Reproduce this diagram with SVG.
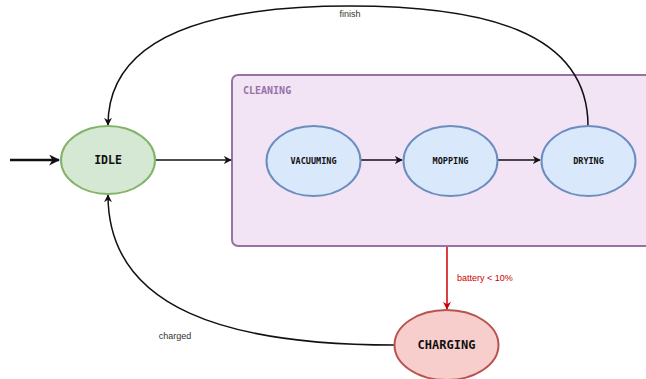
<svg xmlns="http://www.w3.org/2000/svg" width="646" height="379" viewBox="0 0 646 379">
<defs>
<style>
.mono{font-family:"DejaVu Sans Mono","Liberation Mono",monospace;font-weight:bold;text-anchor:middle;fill:#111}
.lbl{font-family:"Liberation Sans",Arial,sans-serif;font-size:9px;fill:#333}
.edge{fill:none;stroke:#111;stroke-width:1.5}
</style>
<marker id="ah" viewBox="0 0 10 10" refX="9" refY="5" markerWidth="8" markerHeight="8" markerUnits="userSpaceOnUse" orient="auto"><path d="M0,0 L10,5 L0,10 L3,5 Z" fill="#111"/></marker>
<marker id="ahr" viewBox="0 0 10 10" refX="9" refY="5" markerWidth="8" markerHeight="8" markerUnits="userSpaceOnUse" orient="auto"><path d="M0,0 L10,5 L0,10 L3,5 Z" fill="#cc0000"/></marker>
<marker id="ahb" viewBox="0 0 10 10" refX="9" refY="5" markerWidth="11" markerHeight="11" markerUnits="userSpaceOnUse" orient="auto"><path d="M0,0 L10,5 L0,10 L3,5 Z" fill="#111"/></marker>
</defs>
<rect width="646" height="379" fill="#ffffff"/>
<g id="cleaning">
<rect x="232" y="75" width="430" height="171" rx="6" fill="#f2e4f5" stroke="#9673a6" stroke-width="2"/>
<text x="243" y="94" class="mono" style="text-anchor:start;fill:#9673a6;font-size:10px">CLEANING</text>
</g>
<g id="connectors">
<line x1="10" y1="160" x2="59" y2="160" stroke="#111" stroke-width="2.5" marker-end="url(#ahb)"/>
<line x1="156" y1="160" x2="231" y2="160" class="edge" stroke="#333" marker-end="url(#ah)"/>
<line x1="361" y1="160" x2="402" y2="160" class="edge" marker-end="url(#ah)"/>
<line x1="498" y1="160" x2="540" y2="160" class="edge" marker-end="url(#ah)"/>
<path d="M588,126 C588,30 480,6 350,6 C200,6 108,40 108,125" class="edge" marker-end="url(#ah)"/>
<text x="350" y="17" class="lbl" text-anchor="middle">finish</text>
<line x1="447" y1="247" x2="447" y2="309" stroke="#cc0000" stroke-width="1.5" marker-end="url(#ahr)"/>
<text x="457" y="281" class="lbl" style="fill:#cc0000">battery &lt; 10%</text>
<path d="M394,345 C230,345 108,310 108,195" class="edge" marker-end="url(#ah)"/>
<text x="175" y="339" class="lbl" text-anchor="middle">charged</text>
</g>
<g id="idle">
<ellipse cx="108" cy="160" rx="47" ry="34" fill="#d5e8d4" stroke="#82b366" stroke-width="2"/>
<text x="108" y="164" class="mono" font-size="11.5">IDLE</text>
</g>
<g id="vacuuming">
<ellipse cx="313.5" cy="161" rx="47" ry="35" fill="#dae8fc" stroke="#6c8ebf" stroke-width="2"/>
<text x="313.5" y="164" class="mono" font-size="8.5">VACUUMING</text>
</g>
<g id="mopping">
<ellipse cx="450.5" cy="161" rx="47" ry="35" fill="#dae8fc" stroke="#6c8ebf" stroke-width="2"/>
<text x="450.5" y="164" class="mono" font-size="8.5">MOPPING</text>
</g>
<g id="drying">
<ellipse cx="588.5" cy="161" rx="47" ry="35" fill="#dae8fc" stroke="#6c8ebf" stroke-width="2"/>
<text x="588.5" y="164" class="mono" font-size="8.5">DRYING</text>
</g>
<g id="charging">
<ellipse cx="446.5" cy="345" rx="52" ry="35" fill="#f8cecc" stroke="#b85450" stroke-width="2"/>
<text x="446.5" y="349" class="mono" font-size="12">CHARGING</text>
</g>
</svg>
